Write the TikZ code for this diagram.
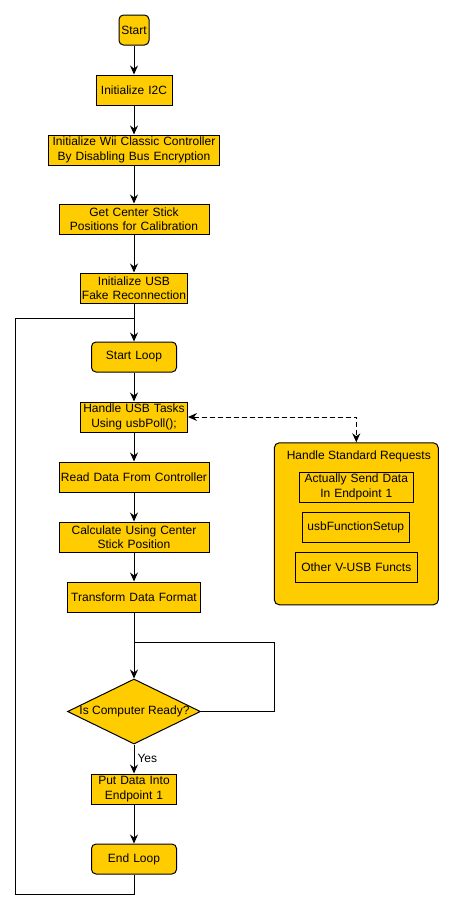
\documentclass[tikz,border=0pt]{standalone}
\usepackage{fontspec}
\setmainfont{Liberation Sans}
\usetikzlibrary{arrows.meta,shapes.geometric}
\definecolor{fillY}{HTML}{FFCC00}
\tikzset{
  box/.style={draw, fill=fillY, line width=1pt, inner sep=0pt, minimum height=30pt,
    align=center, font=\fontsize{12}{14.5}\selectfont},
  rbox/.style={box, rounded corners=4.5pt},
  dia/.style={draw, fill=fillY, line width=1pt, diamond, inner sep=0pt,
    minimum width=133pt, minimum height=65pt},
  plain/.style={inner sep=0pt, font=\fontsize{12}{14.5}\selectfont},
  conn/.style={line width=1pt, -{Stealth[length=9pt,width=8pt,inset=3pt]}},
  line/.style={line width=1pt},
  dconn/.style={line width=1pt, dash pattern=on 5pt off 3pt,
    {Stealth[length=9pt,width=8pt,inset=3pt]}-{Stealth[length=9pt,width=8pt,inset=3pt]}}
}
\begin{document}
\begin{tikzpicture}[x=1pt,y=-1pt]
\useasboundingbox (0,0) rectangle (453,910);

\node[rbox, minimum width=30pt] (start) at (134,30) {Start};
\node[box, text width=76pt] (i2c) at (134,90) {Initialize I2C};
\node[box, text width=171pt] (wii) at (134,150) {Initialize Wii Classic Controller\\By Disabling Bus Encryption};
\node[box, text width=150pt] (cen) at (134,219) {Get Center Stick\\Positions for Calibration};
\node[box, text width=107pt] (usb) at (134,288) {Initialize USB\\Fake Reconnection};
\node[rbox, text width=85pt] (sl) at (134,357) {Start Loop};
\node[box, text width=107pt] (hu) at (134,417) {Handle USB Tasks\\Using usbPoll();};
\node[box, text width=150pt] (rd) at (134,477) {Read Data From Controller};
\node[box, text width=150pt] (calc) at (134,537) {Calculate Using Center\\Stick Position};
\node[box, text width=133pt] (tf) at (134,597) {Transform Data Format};
\node[dia] (dec) at (134,711.5) {};
\node[plain] (dect) at (134.5,711.5) {Is Computer Ready?};
\node[box, text width=85pt] (put) at (134,789) {Put Data Into\\Endpoint 1};
\node[rbox, text width=85pt] (end) at (134,859) {End Loop};

% container
\node[draw, fill=fillY, line width=1pt, rounded corners=5pt, minimum width=164pt,
  minimum height=162pt, inner sep=0pt] (hsr) at (356.3,523.8) {};
\node[plain] (hsrt) at (358.8,456.7) {Handle Standard Requests};
\node[box, text width=114pt] (b1) at (356.3,487) {Actually Send Data\\In Endpoint 1};
\node[box, text width=107pt] (b2) at (355.8,527) {usbFunctionSetup};
\node[box, text width=122pt] (b3) at (356.3,567) {Other V-USB Functs};

% connectors
\draw[conn] (start) -- (i2c);
\draw[conn] (i2c) -- (wii);
\draw[conn] (wii) -- (cen);
\draw[conn] (cen) -- (usb);
\draw[conn] (usb) -- (sl);
\draw[conn] (sl) -- (hu);
\draw[conn] (hu) -- (rd);
\draw[conn] (rd) -- (calc);
\draw[conn] (calc) -- (tf);
\draw[conn] (tf) -- (dec.north);
\draw[conn] (dec.south) -- node[right, plain, xshift=3pt, yshift=1pt] {Yes} (put);
\draw[conn] (put) -- (end);

\coordinate (rc) at (274.3,642.3);
\coordinate (rj) at (134,642.3);
\draw[line] (dec.east) -| (rc) -- (rj);

\coordinate (lb) at (15.7,894.3);
\coordinate (lj) at (134,318.7);
\draw[line] (end.south) |- (lb) |- (lj);

\coordinate (dc) at (356.3,417);
\draw[dconn] (hu.east) -- (dc) -- (hsr.north);
\end{tikzpicture}
\end{document}
